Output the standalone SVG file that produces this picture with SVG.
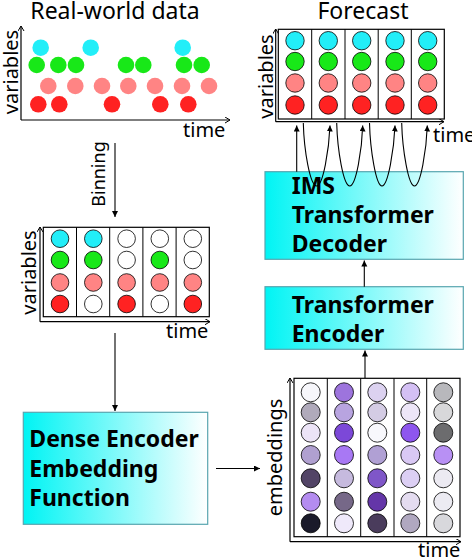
<svg xmlns="http://www.w3.org/2000/svg" width="472" height="560" viewBox="0 0 472 560">
<style>
text{font-family:"Noto Sans","Open Sans","DejaVu Sans",sans-serif;fill:#000}
.t{font-size:23px}
.l{font-size:20px}
.b{font-size:23px;font-weight:bold}
.ax{fill:none;stroke:#000;stroke-width:1.2;marker-end:url(#ax)}
.pn{fill:#fff;stroke:#000;stroke-width:1.2}
.sep{stroke:#000;stroke-width:1}
.c{stroke:#000;stroke-width:0.8}
.cy{fill:#22eef8}.gr{fill:#18e818}.pk{fill:#ff8484}.rd{fill:#ff2222}.wh{fill:#fff}
.gb{fill:url(#g);stroke:#58a6b0;stroke-width:1.2}
.cn{fill:none;stroke:#000;stroke-width:1.1}
.ca{marker-end:url(#arr)}
</style>
<defs>
<linearGradient id="g" x1="0" y1="0" x2="1" y2="0">
<stop offset="0" stop-color="#00f4f4"/>
<stop offset="1" stop-color="#ffffff"/>
</linearGradient>
<marker id="ax" markerUnits="userSpaceOnUse" markerWidth="8" markerHeight="8" refX="5" refY="3" orient="auto">
<path d="M0,0 L5,3 L0,6" fill="none" stroke="#000" stroke-width="1"/>
</marker>
<marker id="arr" markerUnits="userSpaceOnUse" markerWidth="7" markerHeight="7" refX="6" refY="3" orient="auto">
<path d="M0,0 L6,3 L0,6 z" fill="#000"/>
</marker>
</defs>

<g id="realworld">
<text class="t" x="115" y="19" text-anchor="middle">Real-world data</text>
<path class="ax" d="M21,120 L21,26"/>
<path class="ax" d="M21,120 L230,120"/>
<text class="l" transform="translate(17.5,72) rotate(-90)" text-anchor="middle">variables</text>
<text class="l" x="183" y="137">time</text>
<g class="cy"><circle cx="40.7" cy="47.7" r="8.3"/><circle cx="90.7" cy="47.7" r="8.3"/><circle cx="182.7" cy="47.7" r="8.3"/></g>
<g class="gr"><circle cx="36.7" cy="65" r="8.3"/><circle cx="58.3" cy="65" r="8.3"/><circle cx="76" cy="65" r="8.3"/><circle cx="126" cy="65" r="8.3"/><circle cx="143.3" cy="65" r="8.3"/><circle cx="184" cy="65" r="8.3"/><circle cx="201.7" cy="65" r="8.3"/></g>
<g class="pk"><circle cx="48.3" cy="86" r="8.3"/><circle cx="75.3" cy="86" r="8.3"/><circle cx="102" cy="86" r="8.3"/><circle cx="128.3" cy="86" r="8.3"/><circle cx="155" cy="86" r="8.3"/><circle cx="182" cy="86" r="8.3"/><circle cx="209" cy="86" r="8.3"/></g>
<g class="rd"><circle cx="38.3" cy="104.3" r="8.3"/><circle cx="59.3" cy="104.3" r="8.3"/><circle cx="112" cy="104.3" r="8.3"/><circle cx="160.3" cy="104.3" r="8.3"/><circle cx="188.3" cy="104.3" r="8.3"/></g>
</g>

<g id="binned">
<path class="ax" d="M40,321.7 L40,227"/>
<path class="ax" d="M40,321.7 L210,321.7"/>
<rect class="pn" x="43.3" y="227.3" width="166" height="89.4"/>
<path class="sep" d="M76.5,227.3V316.7M109.7,227.3V316.7M142.9,227.3V316.7M176.1,227.3V316.7"/>
<text class="l" transform="translate(36,272.5) rotate(-90)" text-anchor="middle">variables</text>
<text class="l" x="166" y="338">time</text>
<g class="c">
<circle class="cy" cx="60" cy="238.7" r="8.8"/><circle class="gr" cx="60" cy="260" r="8.8"/><circle class="pk" cx="60" cy="282.5" r="8.8"/><circle class="rd" cx="60" cy="304" r="8.8"/>
<circle class="cy" cx="93.3" cy="238.7" r="8.8"/><circle class="gr" cx="93.3" cy="260" r="8.8"/><circle class="pk" cx="93.3" cy="282.5" r="8.8"/><circle class="wh" cx="93.3" cy="304" r="8.8"/>
<circle class="wh" cx="126.6" cy="238.7" r="8.8"/><circle class="wh" cx="126.6" cy="260" r="8.8"/><circle class="pk" cx="126.6" cy="282.5" r="8.8"/><circle class="rd" cx="126.6" cy="304" r="8.8"/>
<circle class="wh" cx="159.8" cy="238.7" r="8.8"/><circle class="gr" cx="159.8" cy="260" r="8.8"/><circle class="pk" cx="159.8" cy="282.5" r="8.8"/><circle class="wh" cx="159.8" cy="304" r="8.8"/>
<circle class="wh" cx="192.8" cy="238.7" r="8.8"/><circle class="wh" cx="192.8" cy="260" r="8.8"/><circle class="pk" cx="192.8" cy="282.5" r="8.8"/><circle class="rd" cx="192.8" cy="304" r="8.8"/>
</g>
</g>

<g id="forecast">
<text class="t" x="363" y="19" text-anchor="middle">Forecast</text>
<path class="ax" d="M275.7,121.7 L275.7,29"/>
<path class="ax" d="M275.7,121.7 L444,121.7"/>
<rect class="pn" x="278.3" y="29.3" width="166" height="89.7"/>
<path class="sep" d="M311.7,29.3V119M345,29.3V119M378.2,29.3V119M411.3,29.3V119"/>
<text class="l" transform="translate(273.3,76.5) rotate(-90)" text-anchor="middle">variables</text>
<text class="l" x="433" y="141.5">time</text>
<g class="c">
<circle class="cy" cx="295" cy="40.7" r="9.2"/><circle class="gr" cx="295" cy="61.5" r="9.2"/><circle class="pk" cx="295" cy="83" r="9.2"/><circle class="rd" cx="295" cy="105" r="9.2"/>
<circle class="cy" cx="328.3" cy="40.7" r="9.2"/><circle class="gr" cx="328.3" cy="61.5" r="9.2"/><circle class="pk" cx="328.3" cy="83" r="9.2"/><circle class="rd" cx="328.3" cy="105" r="9.2"/>
<circle class="cy" cx="361.7" cy="40.7" r="9.2"/><circle class="gr" cx="361.7" cy="61.5" r="9.2"/><circle class="pk" cx="361.7" cy="83" r="9.2"/><circle class="rd" cx="361.7" cy="105" r="9.2"/>
<circle class="cy" cx="395" cy="40.7" r="9.2"/><circle class="gr" cx="395" cy="61.5" r="9.2"/><circle class="pk" cx="395" cy="83" r="9.2"/><circle class="rd" cx="395" cy="105" r="9.2"/>
<circle class="cy" cx="427.7" cy="40.7" r="9.2"/><circle class="gr" cx="427.7" cy="61.5" r="9.2"/><circle class="pk" cx="427.7" cy="83" r="9.2"/><circle class="rd" cx="427.7" cy="105" r="9.2"/>
</g>
</g>

<g id="decoder">
<rect class="gb" x="265" y="171.7" width="198.3" height="87.6"/>
<text class="b" x="291.7" y="194.3">IMS</text>
<text class="b" x="291.7" y="223.3">Transformer</text>
<text class="b" x="291.7" y="252.3">Decoder</text>
</g>

<g id="encoder">
<rect class="gb" x="265" y="286.7" width="198.3" height="62.6"/>
<text class="b" x="291.7" y="313.3">Transformer</text>
<text class="b" x="291.7" y="341.7">Encoder</text>
</g>

<g id="dense">
<rect class="gb" x="23.3" y="412.3" width="184.4" height="112"/>
<text class="b" x="29.3" y="446.7">Dense Encoder</text>
<text class="b" x="29.3" y="476.7">Embedding</text>
<text class="b" x="29.3" y="506">Function</text>
</g>

<g id="embeddings">
<path class="ax" d="M290,541.7 L290,378"/>
<path class="ax" d="M290,541.7 L461,541.7"/>
<rect class="pn" x="294" y="378.3" width="166" height="158.4"/>
<path class="sep" d="M327.3,378.3V536.7M360.7,378.3V536.7M394,378.3V536.7M426.7,378.3V536.7"/>
<text class="l" transform="translate(281.5,457.5) rotate(-90)" text-anchor="middle">embeddings</text>
<text class="l" x="418" y="556.5">time</text>
<g class="c">
<circle cx="310.7" cy="392.3" r="9.5" fill="#f7f7fb"/><circle cx="310.7" cy="412.3" r="9.5" fill="#b0aabb"/><circle cx="310.7" cy="432.7" r="9.5" fill="#ece4f7"/><circle cx="310.7" cy="455" r="9.5" fill="#b0a0d0"/><circle cx="310.7" cy="478.3" r="9.5" fill="#524466"/><circle cx="310.7" cy="501.7" r="9.5" fill="#b48cf0"/><circle cx="310.7" cy="523.3" r="9.5" fill="#1a1a2a"/>
<circle cx="344" cy="392.3" r="9.5" fill="#9d74dd"/><circle cx="344" cy="412.3" r="9.5" fill="#b8a4e0"/><circle cx="344" cy="432.7" r="9.5" fill="#7c48d8"/><circle cx="344" cy="455" r="9.5" fill="#a878f4"/><circle cx="344" cy="478.3" r="9.5" fill="#c6bade"/><circle cx="344" cy="501.7" r="9.5" fill="#766888"/><circle cx="344" cy="523.3" r="9.5" fill="#efe9fa"/>
<circle cx="377.3" cy="392.3" r="9.5" fill="#dcd2f0"/><circle cx="377.3" cy="412.3" r="9.5" fill="#d4cce4"/><circle cx="377.3" cy="432.7" r="9.5" fill="#f8f8fc"/><circle cx="377.3" cy="455" r="9.5" fill="#b0a0d4"/><circle cx="377.3" cy="478.3" r="9.5" fill="#7f56c8"/><circle cx="377.3" cy="501.7" r="9.5" fill="#6436a8"/><circle cx="377.3" cy="523.3" r="9.5" fill="#4a3c5c"/>
<circle cx="410.3" cy="392.3" r="9.5" fill="#d4c0f4"/><circle cx="410.3" cy="412.3" r="9.5" fill="#ede6f8"/><circle cx="410.3" cy="432.7" r="9.5" fill="#8e56ee"/><circle cx="410.3" cy="455" r="9.5" fill="#d9c8f4"/><circle cx="410.3" cy="478.3" r="9.5" fill="#dccff4"/><circle cx="410.3" cy="501.7" r="9.5" fill="#e4dcf0"/><circle cx="410.3" cy="523.3" r="9.5" fill="#b0a8c0"/>
<circle cx="443.3" cy="392.3" r="9.5" fill="#b8b8bc"/><circle cx="443.3" cy="412.3" r="9.5" fill="#d8d8da"/><circle cx="443.3" cy="432.7" r="9.5" fill="#6c6c6e"/><circle cx="443.3" cy="455" r="9.5" fill="#b890f4"/><circle cx="443.3" cy="478.3" r="9.5" fill="#eceaf2"/><circle cx="443.3" cy="501.7" r="9.5" fill="#ecebf2"/><circle cx="443.3" cy="523.3" r="9.5" fill="#d8d8dc"/>
</g>
</g>

<g id="connectors">
<path class="cn ca" d="M115,143 L115,217"/>
<text transform="translate(105,174) rotate(-90)" text-anchor="middle" style="font-size:18px">Binning</text>
<path class="cn ca" d="M115,333 L115,411"/>
<path class="cn ca" d="M216,468.5 L260,468.5"/>
<path class="cn ca" d="M365,378 L365,350.5"/>
<path class="cn ca" d="M364.3,286.7 L364.3,260.5"/>
<path class="cn ca" d="M296.7,171.7 L296.7,125.5"/>
<path class="cn ca" d="M303.3,123 C304,150 310,186 316.7,186 C323,186 329,150 330,125.5"/>
<path class="cn ca" d="M336.7,123 C337.4,150 343.4,186 349.8,186 C356,186 362,150 362.7,125.5"/>
<path class="cn ca" d="M369.5,123 C370.2,150 376,186 382,186 C388,186 394,150 395,125.5"/>
<path class="cn ca" d="M401.7,123 C402.4,150 408.4,186 414.5,186 C420.5,186 426.5,150 427.3,125.5"/>
</g>
</svg>
